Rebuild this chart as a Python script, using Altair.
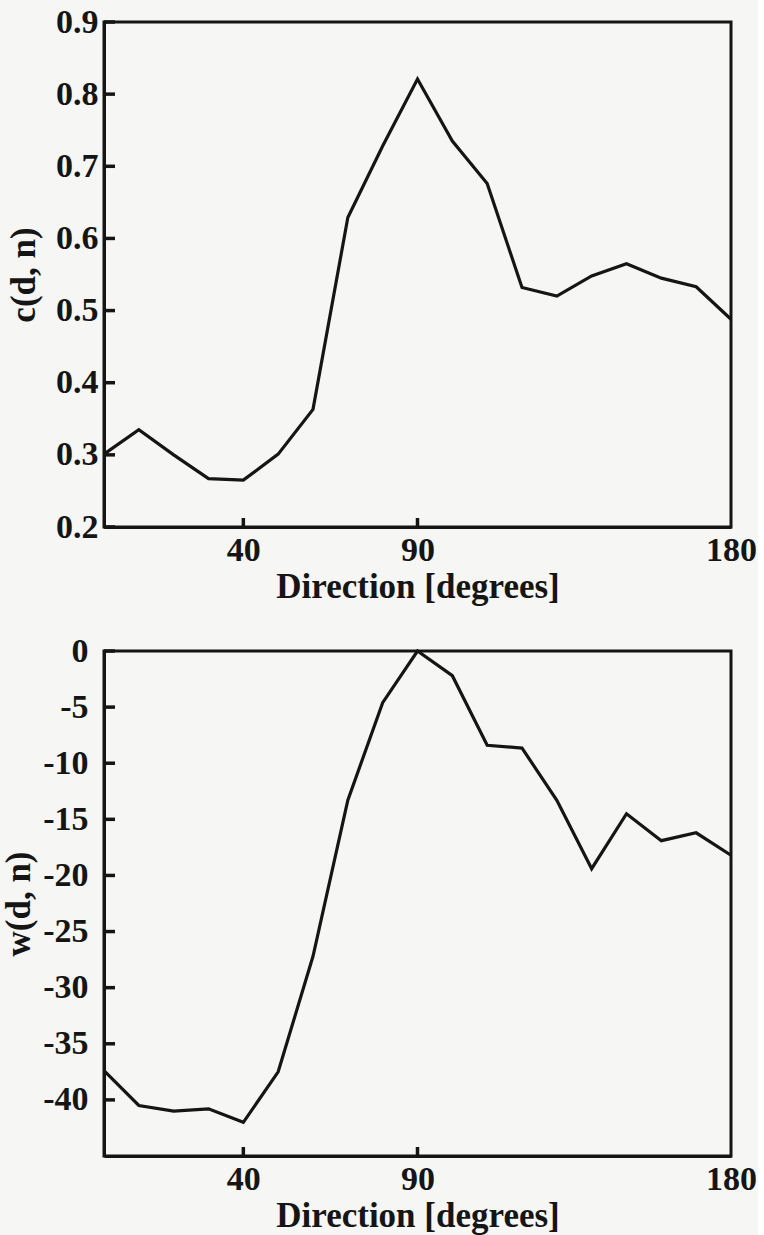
import altair as alt
import pandas as pd

# Direction sampled every 10 degrees
direction = [0, 10, 20, 30, 40, 50, 60, 70, 80, 90,
             100, 110, 120, 130, 140, 150, 160, 170, 180]

# c(d, n)
c_values = [0.301, 0.335, 0.300, 0.267, 0.265, 0.301, 0.363, 0.629, 0.728, 0.821,
            0.735, 0.676, 0.532, 0.520, 0.548, 0.565, 0.545, 0.533, 0.488]

# w(d, n)
w_values = [-37.4, -40.5, -41.0, -40.8, -42.0, -37.5, -27.2, -13.3, -4.6, 0.0,
            -2.2, -8.4, -8.65, -13.3, -19.4, -14.5, -16.9, -16.2, -18.2]

x_ticks = [40, 90, 180]
c_ticks = [0.2, 0.3, 0.4, 0.5, 0.6, 0.7, 0.8, 0.9]
w_ticks = [-40, -35, -30, -25, -20, -15, -10, -5, 0]

FONT = "Liberation Serif"
INK = "#151515"
W, H = 627, 505
X_TICK_LEN = 9
Y_TICK_LEN = 11

df_c = pd.DataFrame({"d": direction, "v": c_values})
df_w = pd.DataFrame({"d": direction, "v": w_values})


def panel(df, y_title, y_domain, y_ticks, label_expr, label_pad, title_pad):
    x_scale = alt.Scale(domain=[0, 180], nice=False, zero=False)
    y_scale = alt.Scale(domain=y_domain, nice=False, zero=False)

    x_axis = alt.Axis(values=x_ticks, title="Direction [degrees]", ticks=False,
                      tickSize=0, labelPadding=6, titlePadding=2,
                      labelFlush=False, grid=False)
    y_axis = alt.Axis(values=y_ticks, title=y_title, labelExpr=label_expr,
                      ticks=False, tickSize=0, labelPadding=label_pad,
                      titlePadding=title_pad, grid=False)

    line = alt.Chart(df).mark_line(color=INK, strokeWidth=3.2).encode(
        x=alt.X("d:Q", scale=x_scale, axis=x_axis),
        y=alt.Y("v:Q", scale=y_scale, axis=y_axis),
    )

    # short tick marks pointing into the plot from the left axis
    yt = alt.Chart(pd.DataFrame({"t": y_ticks})).mark_rule(
        color=INK, strokeWidth=3.5
    ).encode(
        y=alt.Y("t:Q", scale=y_scale, axis=None),
        x=alt.value(0),
        x2=alt.value(Y_TICK_LEN),
    )
    # short tick marks pointing into the plot from the bottom axis
    xt = alt.Chart(pd.DataFrame({"t": x_ticks[:-1]})).mark_rule(
        color=INK, strokeWidth=3.5
    ).encode(
        x=alt.X("t:Q", scale=x_scale, axis=None),
        y=alt.value(H),
        y2=alt.value(H - X_TICK_LEN),
    )
    # scales stay shared; only the curve layer contributes axes
    return alt.layer(line, yt, xt).resolve_axis(
        x="independent", y="independent"
    ).properties(width=W, height=H)


top = panel(df_c, "c(d, n)", [0.2, 0.9], c_ticks,
            "format(datum.value, '.1f')", 6, 14)
bottom = panel(df_w, "w(d, n)", [-45, 0], w_ticks,
               "toString(datum.value)", 16, 6)

chart = alt.vconcat(top, bottom, spacing=26).properties(
    padding={"left": 0, "top": 3, "right": 0, "bottom": 0},
    background="#f6f6f4",
).configure_view(
    stroke=INK, strokeWidth=3,
).configure_axis(
    domainColor=INK, domainWidth=3,
    labelFont=FONT, labelFontSize=34, labelFontWeight="bold", labelColor=INK,
    titleFont=FONT, titleFontSize=35, titleFontWeight="bold", titleColor=INK,
)

chart.save("out.html", embed_options={"renderer": "svg", "actions": False})
